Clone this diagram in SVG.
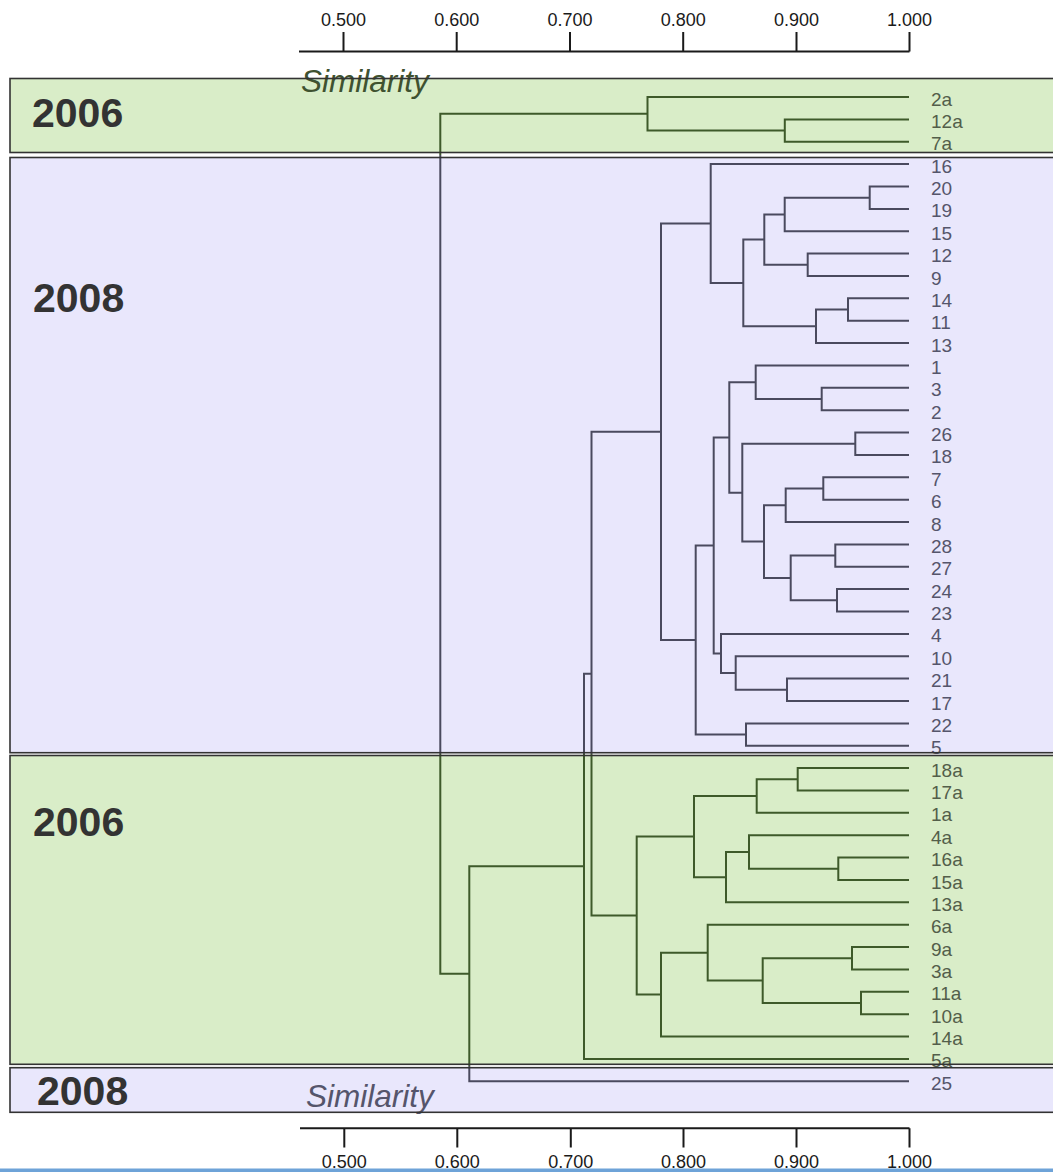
<svg xmlns="http://www.w3.org/2000/svg" xmlns:xlink="http://www.w3.org/1999/xlink" width="1053" height="1172" viewBox="0 0 1053 1172">
<style>
.bandG{fill:#d9edc8}
.bandP{fill:#e9e7fc}
.border{fill:none;stroke:#333;stroke-width:1.6}
.year{font-family:"Liberation Sans",Arial,sans-serif;font-weight:bold;font-size:41px;fill:#333}
.sim{font-family:"Liberation Sans",Arial,sans-serif;font-style:italic;font-size:31.5px}
.axis{stroke:#1a1a1a;stroke-width:2;fill:none}
.tick{font-family:"Liberation Sans",Arial,sans-serif;font-size:18px;fill:#1a1a1a;text-anchor:middle}
.lab{font-family:"Liberation Sans",Arial,sans-serif;font-size:19px}
.lg{fill:#535e4a}
.lp{fill:#55556b}
</style>
<defs>
<clipPath id="clipG"><rect x="0" y="0" width="1053" height="155"/><rect x="0" y="754" width="1053" height="312"/></clipPath>
<clipPath id="clipP"><rect x="0" y="155" width="1053" height="599"/><rect x="0" y="1066" width="1053" height="106"/></clipPath>
<path id="tree" fill="none" stroke-width="2" d="M909 119.4H784.8V141.7H909 M909 97H647.5V130.6H784.8 M647.5 113.8H440.3V973.8H469.3 M909 186.5H869.7V208.9H909 M869.7 197.7H784.7V231.2H909 M909 253.6H807.7V276H909 M784.7 214.5H764.3V264.8H807.7 M909 298.3H848V320.7H909 M848 309.5H816V343.1H909 M764.3 239.6H743.3V326.3H816 M909 164.1H710.7V283H743.3 M909 387.8H821.7V410.2H909 M909 365.4H755.7V399H821.7 M909 432.6H855.3V454.9H909 M909 477.3H823.3V499.7H909 M823.3 488.5H785.7V522H909 M909 544.4H835.3V566.8H909 M909 589.1H837V611.5H909 M835.3 555.6H790.7V600.3H837 M785.7 505.3H764V578H790.7 M855.3 443.8H742.3V541.6H764 M755.7 382.2H729.3V492.7H742.3 M909 678.6H787V701H909 M909 656.3H735.7V689.8H787 M909 633.9H721V673H735.7 M729.3 437.5H713.7V653.5H721 M909 723.4H746V745.7H909 M713.7 545.5H695.7V734.6H746 M710.7 223.5H661V640H695.7 M909 768.1H797.7V790.5H909 M797.7 779.3H756.7V812.8H909 M909 857.6H838.3V880H909 M909 835.2H749V868.8H838.3 M749 852H726V902.3H909 M756.7 796H694V877.2H726 M909 947.1H852V969.4H909 M909 991.8H861V1014.2H909 M852 958.3H762.7V1003H861 M909 924.7H707.7V980.6H762.7 M707.7 952.7H661V1036.5H909 M694 836.6H636.7V994.6H661 M661 431.8H591.5V915.6H636.7 M591.5 673.7H584V1058.9H909 M584 866.3H469.3V1081.3H909"/>
</defs>
<rect x="0" y="0" width="1053" height="1172" fill="#fff"/>
<g id="band-2006-top"><rect class="bandG" x="10" y="78.5" width="1060" height="74"/><text class="year" x="32" y="127">2006</text></g>
<g id="band-2008-upper"><rect class="bandP" x="10" y="157.5" width="1060" height="595.2"/><text class="year" x="33" y="312">2008</text></g>
<g id="band-2006-lower"><rect class="bandG" x="10" y="755.5" width="1060" height="308.8"/><text class="year" x="33" y="836">2006</text></g>
<g id="band-2008-bottom"><rect class="bandP" x="10" y="1067.7" width="1060" height="44.6"/><text class="year" x="37" y="1105">2008</text></g>
<g id="axis-top">
<path class="axis" d="M299 51.5H909.5 M343.5 32V51.5 M456.7 32V51.5 M570 32V51.5 M683.2 32V51.5 M796.5 32V51.5 M909.5 32V51.5"/>
<text class="tick" x="343.5" y="25.5">0.500</text><text class="tick" x="456.7" y="25.5">0.600</text><text class="tick" x="570" y="25.5">0.700</text><text class="tick" x="683.2" y="25.5">0.800</text><text class="tick" x="796.5" y="25.5">0.900</text><text class="tick" x="909.5" y="25.5">1.000</text>
</g>
<g id="axis-bottom">
<path class="axis" d="M300 1128.3H909.5 M344.3 1128.3V1147.5 M457.3 1128.3V1147.5 M570.8 1128.3V1147.5 M683.5 1128.3V1147.5 M796.5 1128.3V1147.5 M909.5 1128.3V1147.5"/>
<text class="tick" x="344.3" y="1167.5">0.500</text><text class="tick" x="457.3" y="1167.5">0.600</text><text class="tick" x="570.8" y="1167.5">0.700</text><text class="tick" x="683.5" y="1167.5">0.800</text><text class="tick" x="796.5" y="1167.5">0.900</text><text class="tick" x="909.5" y="1167.5">1.000</text>
</g>
<g id="connectors">
<use xlink:href="#tree" href="#tree" stroke="#3e5a2a" clip-path="url(#clipG)"/>
<use xlink:href="#tree" href="#tree" stroke="#4a4a5e" clip-path="url(#clipP)"/>
</g>
<g id="leaves" class="lab">
<g id="leaf-2a"><text class="lg" x="931" y="105.5">2a</text></g>
<g id="leaf-12a"><text class="lg" x="931" y="127.9">12a</text></g>
<g id="leaf-7a"><text class="lg" x="931" y="150.2">7a</text></g>
<g id="leaf-16"><text class="lp" x="931" y="172.6">16</text></g>
<g id="leaf-20"><text class="lp" x="931" y="195">20</text></g>
<g id="leaf-19"><text class="lp" x="931" y="217.4">19</text></g>
<g id="leaf-15"><text class="lp" x="931" y="239.7">15</text></g>
<g id="leaf-12"><text class="lp" x="931" y="262.1">12</text></g>
<g id="leaf-9"><text class="lp" x="931" y="284.5">9</text></g>
<g id="leaf-14"><text class="lp" x="931" y="306.8">14</text></g>
<g id="leaf-11"><text class="lp" x="931" y="329.2">11</text></g>
<g id="leaf-13"><text class="lp" x="931" y="351.6">13</text></g>
<g id="leaf-1"><text class="lp" x="931" y="373.9">1</text></g>
<g id="leaf-3"><text class="lp" x="931" y="396.3">3</text></g>
<g id="leaf-2"><text class="lp" x="931" y="418.7">2</text></g>
<g id="leaf-26"><text class="lp" x="931" y="441.1">26</text></g>
<g id="leaf-18"><text class="lp" x="931" y="463.4">18</text></g>
<g id="leaf-7"><text class="lp" x="931" y="485.8">7</text></g>
<g id="leaf-6"><text class="lp" x="931" y="508.2">6</text></g>
<g id="leaf-8"><text class="lp" x="931" y="530.5">8</text></g>
<g id="leaf-28"><text class="lp" x="931" y="552.9">28</text></g>
<g id="leaf-27"><text class="lp" x="931" y="575.3">27</text></g>
<g id="leaf-24"><text class="lp" x="931" y="597.6">24</text></g>
<g id="leaf-23"><text class="lp" x="931" y="620">23</text></g>
<g id="leaf-4"><text class="lp" x="931" y="642.4">4</text></g>
<g id="leaf-10"><text class="lp" x="931" y="664.8">10</text></g>
<g id="leaf-21"><text class="lp" x="931" y="687.1">21</text></g>
<g id="leaf-17"><text class="lp" x="931" y="709.5">17</text></g>
<g id="leaf-22"><text class="lp" x="931" y="731.9">22</text></g>
<g id="leaf-5"><text class="lp" x="931" y="754.2">5</text></g>
<g id="leaf-18a"><text class="lg" x="931" y="776.6">18a</text></g>
<g id="leaf-17a"><text class="lg" x="931" y="799">17a</text></g>
<g id="leaf-1a"><text class="lg" x="931" y="821.3">1a</text></g>
<g id="leaf-4a"><text class="lg" x="931" y="843.7">4a</text></g>
<g id="leaf-16a"><text class="lg" x="931" y="866.1">16a</text></g>
<g id="leaf-15a"><text class="lg" x="931" y="888.5">15a</text></g>
<g id="leaf-13a"><text class="lg" x="931" y="910.8">13a</text></g>
<g id="leaf-6a"><text class="lg" x="931" y="933.2">6a</text></g>
<g id="leaf-9a"><text class="lg" x="931" y="955.6">9a</text></g>
<g id="leaf-3a"><text class="lg" x="931" y="977.9">3a</text></g>
<g id="leaf-11a"><text class="lg" x="931" y="1000.3">11a</text></g>
<g id="leaf-10a"><text class="lg" x="931" y="1022.7">10a</text></g>
<g id="leaf-14a"><text class="lg" x="931" y="1045">14a</text></g>
<g id="leaf-5a"><text class="lg" x="931" y="1067.4">5a</text></g>
<g id="leaf-25"><text class="lp" x="931" y="1089.8">25</text></g>
</g>
<g id="axis-titles">
<text class="sim" x="301" y="92" fill="#3f5230">Similarity</text>
<text class="sim" x="306" y="1106.5" fill="#55556b">Similarity</text>
</g>
<g id="band-borders">
<rect class="border" x="10" y="78.5" width="1060" height="74"/>
<rect class="border" x="10" y="157.5" width="1060" height="595.2"/>
<rect class="border" x="10" y="755.5" width="1060" height="308.8"/>
<rect class="border" x="10" y="1067.7" width="1060" height="44.6"/>
</g>
<rect x="0" y="1168.5" width="1053" height="3.5" fill="#6ea3d8"/>
</svg>
